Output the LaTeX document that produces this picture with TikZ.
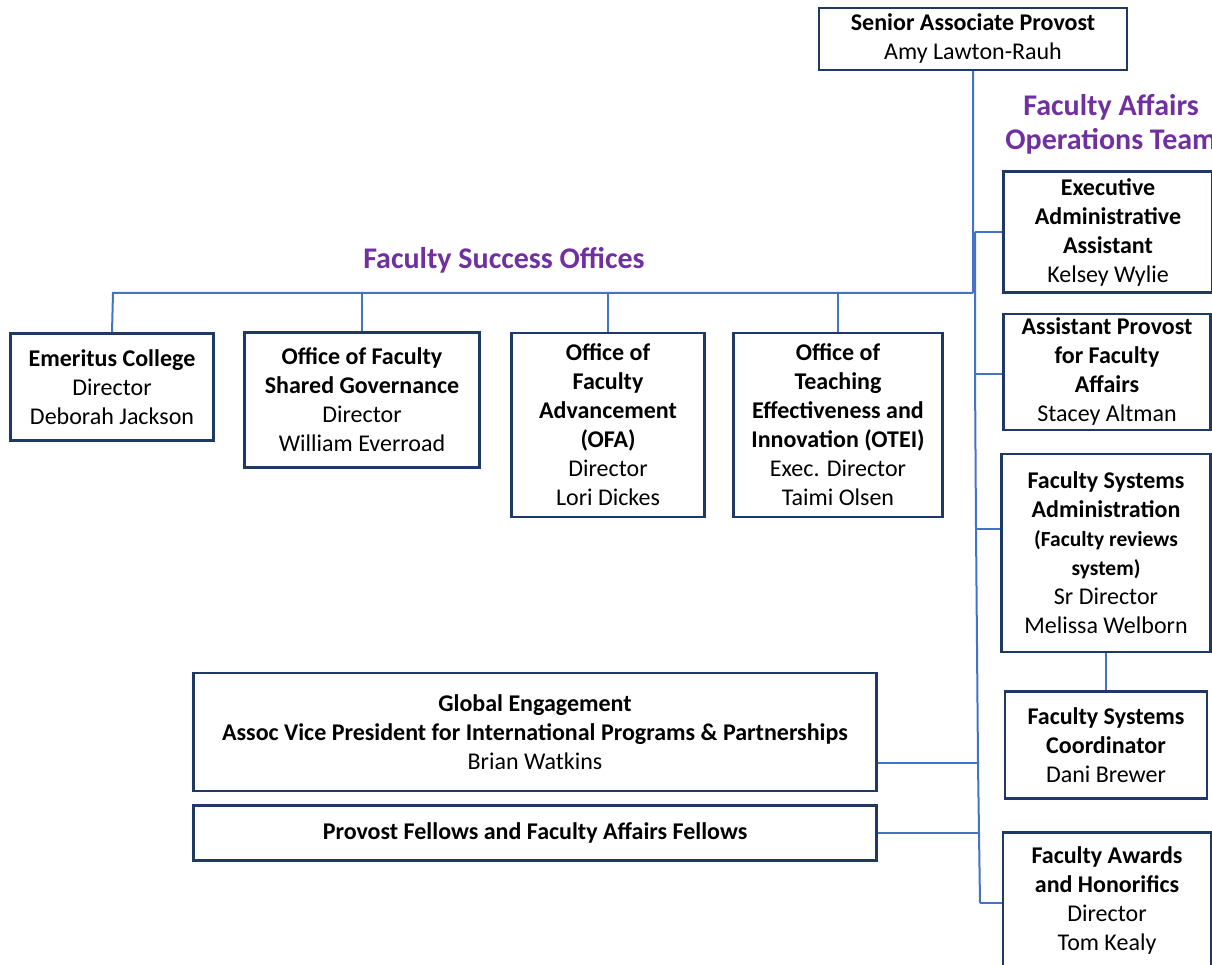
\documentclass[tikz,border=0pt]{standalone}
\usepackage{fontspec}
\setmainfont{Carlito}
\definecolor{boxc}{HTML}{1F3864}
\definecolor{linkc}{HTML}{4472C4}
\definecolor{grpc}{HTML}{7030A0}
\newcommand{\subline}{\bfseries\fontsize{21.5}{27}\selectfont}
\tikzset{unit/.style = {draw=boxc, line width=2.4pt, fill=white, align=center, inner sep=0pt, font=\fontsize{24}{29}\selectfont},
           link/.style = {draw=linkc, line width=2pt},
           grp/.style = {text=grpc, align=center, font=\bfseries\fontsize{30}{34}\selectfont}}

\begin{document}
\begin{tikzpicture}[x=1pt, y=-1pt]
    \useasboundingbox (0,0) rectangle (1212,965);
    \clip (0,0) rectangle (1212,965);
    % provost and operations team
    \node[unit, minimum width=308, minimum height=62] (sap) at (973,39) {\textbf{Senior Associate Provost}\\Amy Lawton-Rauh};
    \node[grp] (opsteam) at (1111,124) {Faculty Affairs\\Operations Team};
    \node[unit, minimum width=209, minimum height=121] (exa) at (1108,232) {\textbf{Executive}\\\textbf{Administrative}\\\textbf{Assistant}\\Kelsey Wylie};
    \node[unit, minimum width=207, minimum height=116] (apf) at (1107,372) {\textbf{Assistant Provost}\\\textbf{for Faculty}\\\textbf{Affairs}\\Stacey Altman};
    \node[unit, minimum width=209, minimum height=198] (fsa) at (1106,553) {\textbf{Faculty Systems}\\\textbf{Administration}\\{\subline (Faculty reviews}\\{\subline system)}\\Sr Director\\Melissa Welborn};
    \node[unit, minimum width=202, minimum height=107] (fsc) at (1106,745) {\textbf{Faculty Systems}\\\textbf{Coordinator}\\Dani Brewer};
    \node[unit, minimum width=208, minimum height=137] (faw) at (1107,901) {\textbf{Faculty Awards}\\\textbf{and Honorifics}\\Director\\Tom Kealy};
    % success offices
    \node[grp] (success) at (504,260) {Faculty Success Offices};
    \node[unit, minimum width=203, minimum height=107] (emc) at (112,387) {\textbf{Emeritus College}\\Director\\Deborah Jackson};
    \node[unit, minimum width=235, minimum height=135] (fsg) at (362,400) {\textbf{Office of Faculty}\\\textbf{Shared Governance}\\Director\\William Everroad};
    \node[unit, minimum width=193, minimum height=184] (ofa) at (608,425) {\textbf{Office of}\\\textbf{Faculty}\\\textbf{Advancement}\\\textbf{(OFA)}\\Director\\Lori Dickes};
    \node[unit, minimum width=209, minimum height=184] (otei) at (838,425) {\textbf{Office of}\\\textbf{Teaching}\\\textbf{Effectiveness and}\\\textbf{Innovation (OTEI)}\\Exec. Director\\Taimi Olsen};
    % other units
    \node[unit, minimum width=683, minimum height=118] (glb) at (535,732) {\textbf{Global Engagement}\\\textbf{Assoc Vice President for International Programs \& Partnerships}\\Brian Watkins};
    \node[unit, minimum width=683, minimum height=55] (pff) at (535,833) {\textbf{Provost Fellows and Faculty Affairs Fellows}};
    % spine
    \coordinate (top) at (sap.south);
    \coordinate (bar) at (973,293);
    \coordinate (j1) at (975,232);
    \coordinate (j2) at (975,374);
    \coordinate (j3) at (976,529);
    \coordinate (j4) at (978,763);
    \coordinate (j5) at (979,833);
    \coordinate (j6) at (980,903);
    \coordinate (left) at (113,293);
    \draw[link] (top) -- (bar) -- (j1) -- (j2) -- (j3) -- (j4) -- (j5) -- (j6);
    \draw[link] (bar) -- (left) -- (emc.north);
    \draw[link] (fsg.north) -- (fsg.north |- bar);
    \draw[link] (ofa.north) -- (ofa.north |- bar);
    \draw[link] (otei.north) -- (otei.north |- bar);
    \draw[link] (j1) -- (j1 -| exa.west);
    \draw[link] (j2) -- (j2 -| apf.west);
    \draw[link] (j3) -- (j3 -| fsa.west);
    \draw[link] (j6) -- (j6 -| faw.west);
    \draw[link] (j4) -- (j4 -| glb.east);
    \draw[link] (j5) -- (j5 -| pff.east);
    \draw[link] (fsa.south) -- (fsc.north);
\end{tikzpicture}
\end{document}
